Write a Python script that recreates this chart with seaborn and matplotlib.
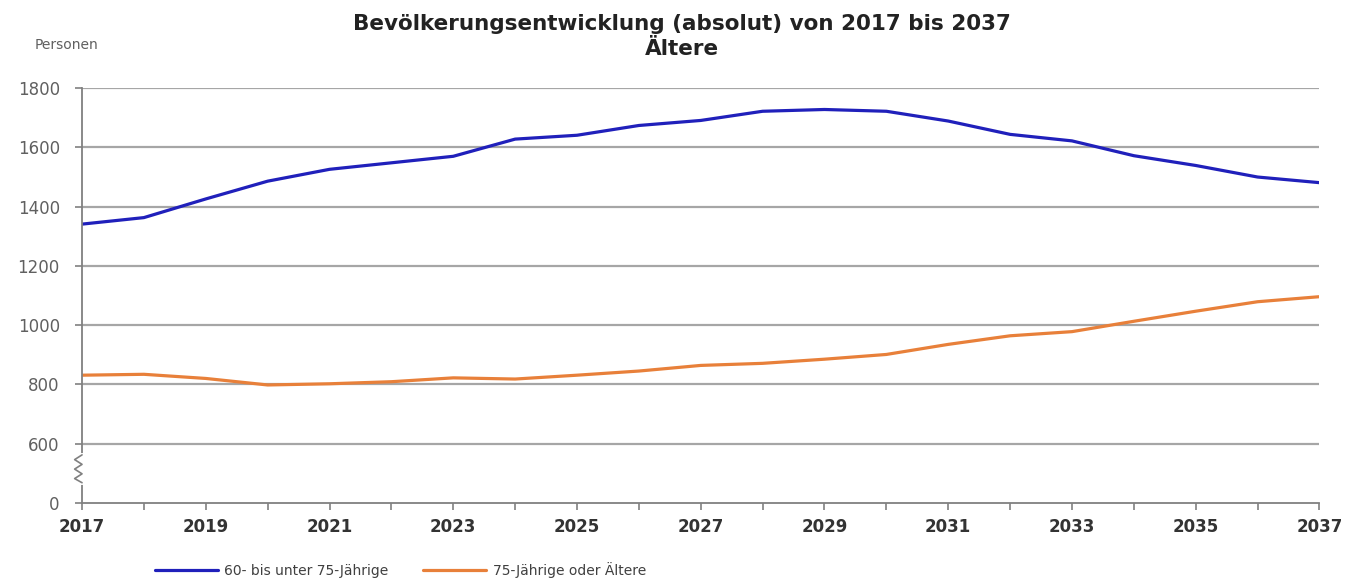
import pandas as pd
import matplotlib.pyplot as plt
import seaborn as sns

# Data
years = list(range(2017, 2038))
age_60_75 = [1341, 1363, 1426, 1486, 1526, 1548, 1570, 1628, 1641, 1674, 1691,
             1722, 1728, 1722, 1689, 1644, 1622, 1572, 1539, 1500, 1481]
age_75_plus = [831, 834, 820, 798, 802, 809, 822, 818, 831, 845, 864,
               871, 885, 901, 935, 964, 978, 1013, 1047, 1079, 1096]
series_names = ["60- bis unter 75-Jährige", "75-Jährige oder Ältere"]
colors = ["#2020bb", "#e8803a"]

# y axis is broken: the label "0" sits where 400 would be
y_ticks = [400, 600, 800, 1000, 1200, 1400, 1600, 1800]
y_labels = ["0", "600", "800", "1000", "1200", "1400", "1600", "1800"]

df = pd.DataFrame({
    "Jahr": years * 2,
    "Personen": age_60_75 + age_75_plus,
    "Gruppe": [series_names[0]] * len(years) + [series_names[1]] * len(years),
})

sns.set_style("white")
plt.rcParams['font.family'] = ['DejaVu Sans']

fig = plt.figure(figsize=(13.45, 5.8), dpi=100)
ax = fig.add_axes([0.061, 0.133, 0.920, 0.715])

sns.lineplot(data=df, x="Jahr", y="Personen", hue="Gruppe", palette=colors,
             linewidth=2.3, ax=ax, legend=True)

ax.set_xlim(2017, 2037)
ax.set_ylim(400, 1800)
ax.set_yticks(y_ticks)
ax.set_yticklabels(y_labels, color="#606060", fontsize=12)
ax.set_xticks(years)
ax.set_xticklabels([str(y) if (y - 2017) % 2 == 0 else "" for y in years],
                   fontsize=12, fontweight="bold", color="#333333")
ax.tick_params(axis="both", direction="out", length=5, width=1.2, color="#808080",
               bottom=True, left=True)
ax.tick_params(axis="x", pad=6)
ax.tick_params(axis="y", pad=11)
ax.set_xlabel("")
ax.set_ylabel("")

for v in y_ticks[1:]:
    ax.axhline(v, color="#a6a6a6", lw=1.6, zorder=0)

for side in ["top", "right"]:
    ax.spines[side].set_visible(False)
for side in ["left", "bottom"]:
    ax.spines[side].set_color("#808080")
    ax.spines[side].set_linewidth(1.3)

# axis break mark
trans = ax.get_yaxis_transform()
ax.plot([0, 0], [468, 562], color="white", lw=3, transform=trans, clip_on=False, zorder=5)
ax.plot([0, -0.006, 0, -0.006, 0, -0.006, 0], [468, 482, 498, 514, 530, 546, 562],
        color="#808080", lw=1.2, transform=trans, clip_on=False, zorder=6)

# legend at the bottom
handles, labels = ax.get_legend_handles_labels()
ax.legend(handles, labels, loc="center left", bbox_to_anchor=(0.059, -0.162), ncol=2,
          frameon=False, fontsize=10, handlelength=4.5, columnspacing=2.5,
          borderpad=0, borderaxespad=0, handletextpad=0.5, labelcolor="#404040")

fig.text(0.507, 0.958, "Bevölkerungsentwicklung (absolut) von 2017 bis 2037",
         ha="center", va="center", fontsize=15.5, fontweight="bold", color="#222222")
fig.text(0.507, 0.915, "Ältere", ha="center", va="center", fontsize=15.5,
         fontweight="bold", color="#222222")
fig.text(0.026, 0.922, "Personen", ha="left", va="center", fontsize=10, color="#606060")

fig.savefig("out.png", dpi=100)
